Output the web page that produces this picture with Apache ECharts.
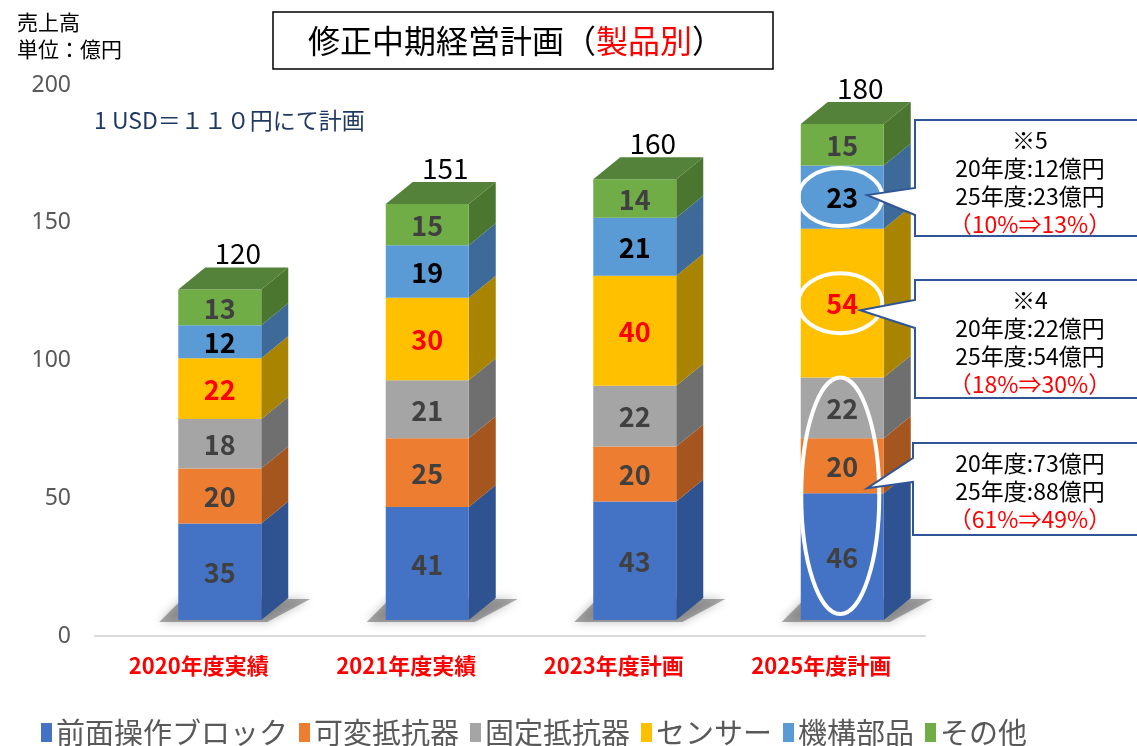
<!DOCTYPE html>
<html>
<head>
<meta charset="utf-8">
<script src="https://cdn.jsdelivr.net/npm/echarts@6/dist/echarts.min.js"></script>
<style>
  html, body { margin: 0; padding: 0; background: #fff; }
  #chart { width: 1137px; height: 746px; }
</style>
</head>
<body>
<div id="chart"></div>
<script>
// Sales by product group (unit: 100 million yen)
const categories = ['2020年度実績', '2021年度実績', '2023年度計画', '2025年度計画'];
const seriesNames = ['前面操作ブロック', '可変抵抗器', '固定抵抗器', 'センサー', '機構部品', 'その他'];
const frontPanel = [35, 41, 43, 46];
const variableRes = [20, 25, 20, 20];
const fixedRes = [18, 21, 22, 22];
const sensor = [22, 30, 40, 54];
const mechanism = [12, 19, 21, 23];
const others = [13, 15, 14, 15];
const totals = [120, 151, 160, 180];
const yMin = 0, yMax = 200, yStep = 50;

const seriesValues = [frontPanel, variableRes, fixedRes, sensor, mechanism, others];

// face colours: front / right side, plus the lid of the column
const frontColors = ['#4472C4', '#ED7D31', '#A5A5A5', '#FFC000', '#5B9BD5', '#70AD47'];
const sideColors = ['#2F5290', '#A5561E', '#6F6F6F', '#A88400', '#3D6A98', '#4B7630'];
const topColor = '#54823A';
const labelColors = ['#404040', '#404040', '#404040', '#FF0000', '#000000', '#404040'];

// pseudo-3D geometry (pixels)
const FACE_W = 83;   // front face width
const DX = 27;       // depth offset to the right
const DY = -22;      // depth offset upward
const OX = 21;       // front face shift from category centre
const OY = -16;      // front face lift above the floor line

const FONT = '"Noto Sans CJK JP", "Noto Sans", sans-serif';

const chart = echarts.init(document.getElementById('chart'));

// cumulative bases for stacking
const bases = seriesValues.map((vals, s) =>
  vals.map((v, i) => seriesValues.slice(0, s).reduce((acc, arr) => acc + arr[i], 0))
);

function makeSeries(s) {
  const isTop = s === seriesValues.length - 1;
  const isBottom = s === 0;
  return {
    name: seriesNames[s],
    type: 'custom',
    clip: false,
    itemStyle: { color: frontColors[s] },
    encode: { x: 0, y: [1, 2] },
    data: seriesValues[s].map((v, i) => [i, bases[s][i], bases[s][i] + v, v, totals[i]]),
    z: 2,
    renderItem: function (params, api) {
      const ci = api.value(0);
      const lo = api.coord([ci, api.value(1)]);
      const hi = api.coord([ci, api.value(2)]);
      const cx = lo[0] + OX;
      const x0 = cx - FACE_W / 2;
      const x1 = cx + FACE_W / 2;
      const yb = lo[1] + OY;
      const yt = hi[1] + OY;
      const children = [];
      if (isBottom) {
        // soft cast shadow on the floor
        children.push({
          type: 'polygon',
          shape: { points: [[x0 - 19, yb + 2], [x1 + 6, yb + 2], [x1 + DX + 22, yb + DY + 1], [x0 + 4, yb + DY + 1]] },
          style: { fill: 'rgba(60,60,60,0.42)', shadowBlur: 10, shadowColor: 'rgba(0,0,0,0.6)' },
          z2: 0
        });
      }
      children.push({
        type: 'polygon',
        shape: { points: [[x1, yb], [x1 + DX, yb + DY], [x1 + DX, yt + DY], [x1, yt]] },
        style: { fill: sideColors[s] },
        z2: 1
      });
      children.push({
        type: 'rect',
        shape: { x: x0, y: yt, width: FACE_W, height: yb - yt },
        style: { fill: frontColors[s] },
        z2: 1
      });
      if (isTop) {
        children.push({
          type: 'polygon',
          shape: { points: [[x0, yt], [x0 + DX, yt + DY], [x1 + DX, yt + DY], [x1, yt]] },
          style: { fill: topColor },
          z2: 1
        });
        children.push({
          type: 'text',
          style: {
            text: String(api.value(4)), x: cx + 18, y: yt + DY - 14,
            align: 'center', verticalAlign: 'middle',
            font: '28px ' + FONT, fill: '#000000'
          },
          z2: 3
        });
      }
      children.push({
        type: 'text',
        style: {
          text: String(api.value(3)), x: cx, y: (yt + yb) / 2 + 1,
          align: 'center', verticalAlign: 'middle',
          font: 'bold 27px ' + FONT, fill: labelColors[s]
        },
        z2: 3
      });
      return { type: 'group', children: children };
    }
  };
}

chart.setOption({
  animation: false,
  backgroundColor: '#ffffff',
  textStyle: { fontFamily: FONT },
  grid: { left: 95, right: 212, top: 85, bottom: 110, containLabel: false },
  legend: {
    data: seriesNames,
    left: 36, top: 713,
    icon: 'rect', itemWidth: 11, itemHeight: 19, itemGap: 11,
    textStyle: { fontSize: 29, color: '#595959', fontFamily: FONT, padding: [0, 0, 0, -1] }
  },
  xAxis: {
    type: 'category',
    data: categories,
    axisLine: { show: true, lineStyle: { color: '#D9D9D9', width: 2 } },
    axisTick: { show: false },
    axisLabel: { color: '#FF0000', fontWeight: 'bold', fontSize: 22, margin: 19, fontFamily: FONT }
  },
  yAxis: {
    type: 'value',
    min: yMin, max: yMax, interval: yStep,
    axisLine: { show: false },
    axisTick: { show: false },
    splitLine: { show: false },
    axisLabel: { color: '#595959', fontSize: 23, margin: 24, fontFamily: '"Noto Sans", sans-serif' }
  },
  series: seriesValues.map((_, s) => makeSeries(s))
});

// annotations on the 2025 column
const last = categories.length - 1;
function segMid(s) {
  const p = chart.convertToPixel({ gridIndex: 0 }, [last, bases[s][last] + seriesValues[s][last] / 2]);
  return [p[0] + OX, p[1] + OY];
}
const floorPt = chart.convertToPixel({ gridIndex: 0 }, [last, 0]);
const lowTop = chart.convertToPixel({ gridIndex: 0 }, [last, bases[3][last]]);
const blueTop = chart.convertToPixel({ gridIndex: 0 }, [last, bases[1][last]]);
const eMech = segMid(4);
const eSens = segMid(3);
const eLowCy = (floorPt[1] + OY + lowTop[1] + OY) / 2 - 3;
const eLowRy = (floorPt[1] - lowTop[1]) / 2 - 3;
const ellipseColor = '#FFFFFF';
const calloutLine = '#2F5597';

function callout(x, yTop, yBot, w1, w2, tip) {
  return {
    type: 'polygon',
    shape: { points: [[x, yTop], [1150, yTop], [1150, yBot], [x, yBot], [x, w2], tip, [x, w1]] },
    style: { fill: '#FFFFFF', stroke: calloutLine, lineWidth: 2 },
    z: 5
  };
}
function boxText(lines, x, y) {
  return {
    type: 'text', z: 6,
    style: {
      text: lines.join('\n'), x: x, y: y, align: 'center', verticalAlign: 'top',
      font: '23px ' + FONT, lineHeight: 28, fill: '#000000',
      rich: { r: { fill: '#FF0000', font: '23px ' + FONT, lineHeight: 28 } }
    }
  };
}

chart.setOption({
  graphic: [
    // title box
    {
      type: 'rect', shape: { x: 273, y: 12, width: 500, height: 57 },
      style: { fill: '#FFFFFF', stroke: '#000000', lineWidth: 1.5 }, z: 5
    },
    {
      type: 'text', z: 6,
      style: {
        text: '{a|修正中期経営計画（}{r|製品別}{a|）}', x: 308, y: 41,
        align: 'left', verticalAlign: 'middle',
        rich: {
          a: { font: '32px ' + FONT, fill: '#000000' },
          r: { font: '32px ' + FONT, fill: '#FF0000' }
        }
      }
    },
    // unit caption
    {
      type: 'text', z: 6,
      style: { text: '売上高\n単位：億円', x: 17, y: 9, font: '21px ' + FONT, lineHeight: 27, fill: '#000000' }
    },
    // exchange-rate note
    {
      type: 'text', z: 6,
      style: { text: '1 USD＝１１０円にて計画', x: 94, y: 120, verticalAlign: 'middle', font: '23px ' + FONT, fill: '#203864' }
    },
    // highlight ellipses
    {
      type: 'ellipse', z: 4,
      shape: { cx: eMech[0] - 2, cy: eMech[1], rx: 42, ry: 29 },
      style: { fill: 'none', stroke: ellipseColor, lineWidth: 4 }
    },
    {
      type: 'ellipse', z: 4,
      shape: { cx: eSens[0] - 2, cy: eSens[1], rx: 42, ry: 30 },
      style: { fill: 'none', stroke: ellipseColor, lineWidth: 4 }
    },
    {
      type: 'ellipse', z: 4,
      shape: { cx: floorPt[0] + OX - 2, cy: eLowCy, rx: 39, ry: eLowRy },
      style: { fill: 'none', stroke: ellipseColor, lineWidth: 4 }
    },
    // callouts
    callout(915, 120, 236, 188, 215, [eMech[0] + 25, eMech[1] - 2]),
    boxText(['※5', '20年度:12億円', '25年度:23億円', '{r|（10%⇒13%）}'], 1030, 126),
    callout(915, 280, 398, 300, 328, [eSens[0] + 18, eSens[1] + 7]),
    boxText(['※4', '20年度:22億円', '25年度:54億円', '{r|（18%⇒30%）}'], 1030, 286),
    callout(913, 443, 535, 458, 482, [blueTop[0] + OX + 25, blueTop[1] + OY - 5]),
    boxText(['20年度:73億円', '25年度:88億円', '{r|（61%⇒49%）}'], 1030, 449)
  ]
});
</script>
</body>
</html>
